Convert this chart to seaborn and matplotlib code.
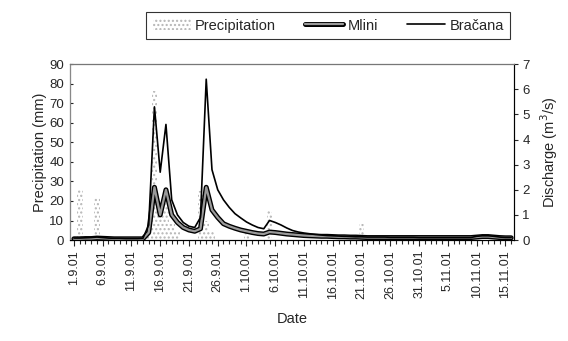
import matplotlib
matplotlib.use("Agg")
import matplotlib.pyplot as plt
import matplotlib.patheffects as pe
import seaborn as sns
import pandas as pd
import numpy as np

# daily values 1.9.2001 - 16.11.2001
precip_mm = [0, 26, 0, 0, 22, 0, 0, 0, 0, 0,
             0, 0, 2, 7, 76, 20, 25, 8, 4, 0,
             0, 0, 25, 10, 4, 0, 0, 0, 0, 0,
             5, 0, 0, 0, 15, 0, 0, 0, 0, 0,
             0, 0, 0, 0, 0, 0, 0, 0, 0, 0,
             8, 0, 0, 0, 0, 0, 0, 0, 0, 0,
             0, 0, 0, 0, 0, 0, 0, 0, 0, 0,
             0, 0, 0, 0, 0, 0, 0]
mlini = [0.05, 0.05, 0.06, 0.06, 0.08, 0.07, 0.06, 0.05, 0.05, 0.05,
         0.05, 0.05, 0.05, 0.3, 2.1, 1.0, 2.0, 1.0, 0.7, 0.5,
         0.4, 0.35, 0.45, 2.1, 1.2, 0.9, 0.65, 0.55, 0.47, 0.4,
         0.35, 0.3, 0.26, 0.24, 0.32, 0.3, 0.27, 0.24, 0.22, 0.2,
         0.18, 0.17, 0.16, 0.15, 0.15, 0.14, 0.13, 0.13, 0.12, 0.12,
         0.11, 0.1, 0.1, 0.1, 0.1, 0.1, 0.1, 0.1, 0.1, 0.1,
         0.1, 0.1, 0.1, 0.1, 0.1, 0.1, 0.1, 0.1, 0.1, 0.1,
         0.12, 0.14, 0.14, 0.12, 0.1, 0.09, 0.09]
bracana = [0.08, 0.08, 0.09, 0.1, 0.12, 0.1, 0.08, 0.07, 0.07, 0.06,
           0.06, 0.06, 0.07, 0.6, 5.3, 2.7, 4.6, 1.6, 1.0, 0.7,
           0.55, 0.5, 0.9, 6.4, 2.8, 2.0, 1.6, 1.3, 1.05, 0.88,
           0.72, 0.6, 0.5, 0.45, 0.78, 0.7, 0.6, 0.48, 0.38, 0.32,
           0.28, 0.25, 0.22, 0.2, 0.18, 0.17, 0.16, 0.15, 0.14, 0.13,
           0.13, 0.12, 0.12, 0.12, 0.12, 0.11, 0.11, 0.11, 0.11, 0.11,
           0.1, 0.1, 0.1, 0.1, 0.1, 0.1, 0.1, 0.1, 0.1, 0.1,
           0.15, 0.17, 0.17, 0.15, 0.12, 0.1, 0.1]
tick_labels = ["1.9.01", "6.9.01", "11.9.01", "16.9.01", "21.9.01", "26.9.01",
               "1.10.01", "6.10.01", "11.10.01", "16.10.01", "21.10.01",
               "26.10.01", "31.10.01", "5.11.01", "10.11.01", "15.11.01"]

days = np.arange(len(precip_mm))
df = pd.DataFrame({"day": days, "precip": precip_mm,
                   "Mlini": mlini, "Bracana": bracana})

sns.set_style("white")
plt.rcParams["font.family"] = ["Liberation Sans", "DejaVu Sans"]
plt.rcParams["hatch.linewidth"] = 1.0

fig = plt.figure(figsize=(5.68, 3.41), dpi=100)
ax = fig.add_axes([0.123, 0.296, 0.782, 0.516])

sns.barplot(data=df, x="day", y="precip", native_scale=True, width=1.0,
            color="white", edgecolor="#b5b5b5", linewidth=0, hatch="....",
            label="Precipitation", ax=ax)
if ax.get_legend() is not None:
    ax.get_legend().remove()

ax2 = ax.twinx()
sns.lineplot(data=df, x="day", y="Mlini", color="#9a9a9a", lw=1.6,
             label="Mlini", legend=False, ax=ax2,
             path_effects=[pe.Stroke(linewidth=3.6, foreground="black"), pe.Normal()])
sns.lineplot(data=df, x="day", y="Bracana", color="black", lw=1.2,
             label="Bračana", legend=False, ax=ax2)

ax.set_xlim(-0.7, 76.5)
ax.set_ylim(0, 90)
ax.set_yticks(range(0, 91, 10))
ax2.set_ylim(0, 7)
ax2.set_yticks(range(0, 8))
ax.set_xticks(range(0, 76, 5))
ax.set_xticks(range(0, 77), minor=True)
ax.set_xticklabels(tick_labels, rotation=90, fontsize=9)
ax.tick_params(axis="x", which="both", direction="out", bottom=True, length=3, width=0.8, pad=3)
ax.tick_params(axis="x", which="major", length=4)
ax.tick_params(axis="y", direction="in", left=True, length=2, labelsize=9.5, pad=4)
ax2.tick_params(axis="y", direction="out", right=True, length=3, labelsize=9.5, pad=3)

ax.set_xlabel("Date", fontsize=10.5, labelpad=10)
ax.set_ylabel("Precipitation (mm)", fontsize=10.5, labelpad=2)
ax2.set_ylabel("Discharge (m$^3$/s)", fontsize=10.5, labelpad=6)

for a in (ax, ax2):
    for side in ("top", "bottom", "left", "right"):
        a.spines[side].set_visible(True)
        a.spines[side].set_linewidth(0.8)
ax2.spines["top"].set_color("#777777")
ax2.spines["left"].set_color("#888888")
ax2.spines["right"].set_color("black")
ax2.spines["bottom"].set_color("black")

h1, l1 = ax.get_legend_handles_labels()
h2, l2 = ax2.get_legend_handles_labels()
leg = fig.legend(h1 + h2, l1 + l2, ncol=3, loc="center",
                 bbox_to_anchor=(0.578, 0.925), frameon=True, fancybox=False,
                 fontsize=10.5, handlelength=2.6, columnspacing=2.0,
                 handletextpad=0.3, borderpad=0.45)
leg.get_frame().set_edgecolor("black")
leg.get_frame().set_linewidth(0.8)

fig.savefig("out.png", dpi=100)
